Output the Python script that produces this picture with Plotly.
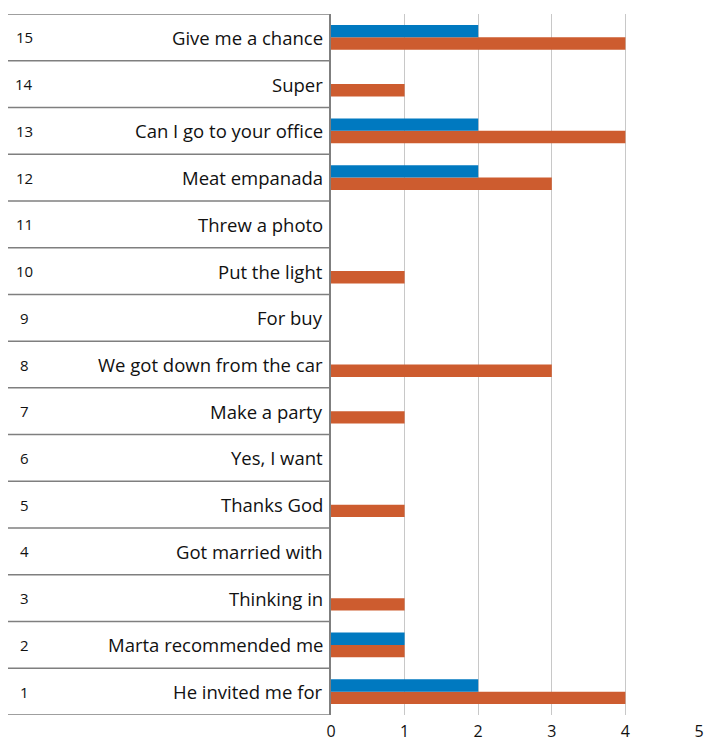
import plotly.graph_objects as go

row_numbers = list(range(1, 16))
phrases = ["He invited me for", "Marta recommended me", "Thinking in", "Got married with",
           "Thanks God", "Yes, I want", "Make a party", "We got down from the car", "For buy",
           "Put the light", "Threw a photo", "Meat empanada", "Can I go to your office",
           "Super", "Give me a chance"]
blue_values = [2, 1, 0, 0, 0, 0, 0, 0, 0, 0, 0, 2, 2, 0, 2]
orange_values = [4, 1, 1, 0, 1, 0, 1, 3, 0, 1, 0, 3, 4, 1, 4]
x_ticks = [0, 1, 2, 3, 4, 5]

W, H = 705, 743
ml, mr, mt, mb = 331, 6, 14, 28
pw = W - ml - mr
FONT = "Open Sans"

fig = go.Figure()
fig.add_trace(go.Bar(y=row_numbers, x=orange_values, orientation="h",
                     marker=dict(color="#CD5C2F", line=dict(width=0)), showlegend=False))
fig.add_trace(go.Bar(y=row_numbers, x=blue_values, orientation="h",
                     marker=dict(color="#0079C0", line=dict(width=0)), showlegend=False))

shapes = []
for k in range(16):
    shapes.append(dict(type="line", xref="paper", yref="y",
                       x0=-(ml - 8) / pw, x1=0, y0=k + 0.5, y1=k + 0.5,
                       line=dict(color="#7f7f7f", width=1.5)))

annotations = []
for n, p in zip(row_numbers, phrases):
    annotations.append(dict(xref="paper", yref="y", x=-(ml - 325) / pw, y=n, text=p,
                            xanchor="right", yanchor="middle", showarrow=False,
                            font=dict(family=FONT, size=18.5, color="#111")))
    annotations.append(dict(xref="paper", yref="y", x=-(ml - 24) / pw, y=n, text=str(n),
                            xanchor="center", yanchor="middle", showarrow=False,
                            font=dict(family=FONT, size=15, color="#111")))

fig.update_layout(
    width=W, height=H, margin=dict(l=ml, r=mr, t=mt, b=mb, autoexpand=False),
    paper_bgcolor="white", plot_bgcolor="white",
    barmode="group", bargap=0.47, bargroupgap=0,
    shapes=shapes, annotations=annotations,
    xaxis=dict(range=[0, 5], tickvals=x_ticks, showgrid=True, gridcolor="#c8c8c8",
               gridwidth=1, zeroline=False, showline=False, ticks="outside", ticklen=2,
               tickcolor="rgba(0,0,0,0)", automargin=False,
               tickfont=dict(family=FONT, size=16, color="#111")),
    yaxis=dict(range=[0.5, 15.5], showticklabels=False, showgrid=False, zeroline=False,
               showline=True, linecolor="#7f7f7f", linewidth=1.5, ticks="",
               automargin=False),
)
fig.write_html("out.html")
